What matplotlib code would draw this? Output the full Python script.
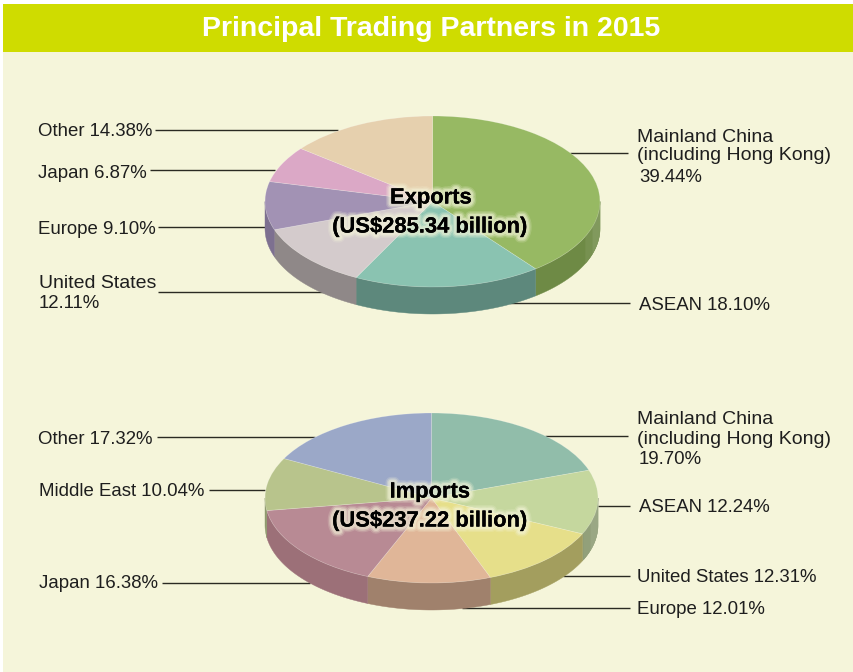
import numpy as np
import matplotlib
matplotlib.use("Agg")
import matplotlib.pyplot as plt
import matplotlib.colors as mc
import matplotlib.patheffects as pe

plt.rcParams['font.family'] = ['Liberation Sans', 'DejaVu Sans']

W, H = 854, 672
TITLE = "Principal Trading Partners in 2015"

export_names = ["Mainland China", "ASEAN", "United States", "Europe", "Japan", "Other"]
export_values = [39.44, 18.10, 12.11, 9.10, 6.87, 14.38]
import_names = ["Mainland China", "ASEAN", "United States", "Europe", "Japan", "Middle East", "Other"]
import_values = [19.70, 12.24, 12.31, 12.01, 16.38, 10.04, 17.32]

export_label_text = ["Other 14.38%", "Japan 6.87%", "Europe 9.10%", "United States", "12.11%",
                     "Mainland China", "(including Hong Kong)", "39.44%", "ASEAN 18.10%"]
import_label_text = ["Other 17.32%", "Middle East 10.04%", "Japan 16.38%",
                     "Mainland China", "(including Hong Kong)", "19.70%",
                     "ASEAN 12.24%", "United States 12.31%", "Europe 12.01%"]
centre_text = ["Exports", "(US$285.34 billion)", "Imports", "(US$237.22 billion)"]

# styling and layout, separate from the data above
export_colors = ["#97B963", "#8AC3B1", "#D4CBCC", "#A292B4", "#DBA8C6", "#E6D0AE"]
export_walls = ["#6E8A45", "#5D887C", "#8F8888", "#7D7090", "#A07F95", "#A8987E"]
import_colors = ["#91BDAA", "#C5D79E", "#E6DF8A", "#E0B698", "#B88A94", "#B8C48C", "#9BA8C8"]
import_walls = ["#6B8C7E", "#8B9A72", "#A39E5E", "#A0816C", "#9C7078", "#8F9A6E", "#727D96"]
export_label_xy = [(38, 132), (38, 173), (38, 230), (39, 283), (39, 303),
                   (637, 137), (637, 156), (639, 178), (639, 305)]
import_label_xy = [(38, 439), (39, 492), (39, 584),
                   (637, 419), (637, 439), (639, 460),
                   (639, 508), (637, 577), (637, 609)]
centre_xy = [(431, 198), (430, 227), (430, 492), (430, 521)]
leaders = [
    (155, 338, 130), (150, 275, 170), (158, 265, 227), (158, 325, 292), (570, 628, 153), (510, 630, 303),
    (157, 315, 437), (209, 265, 490), (162, 310, 583), (545, 628, 436), (598, 630, 506), (563, 630, 576),
    (462, 630, 608),
]

fig = plt.figure(figsize=(W / 100, H / 100), dpi=100, facecolor="white")


def px_axes(zorder):
    ax = fig.add_axes([0, 0, 1, 1], zorder=zorder)
    ax.set_xlim(0, W)
    ax.set_ylim(H, 0)
    ax.axis("off")
    ax.patch.set_alpha(0)
    return ax


base = px_axes(0)
base.fill_between([3, W], 52, H, color="#F5F5DA", lw=0)
base.fill_between([3, W], 4, 52, color="#CFDC00", lw=0)
base.text(431, 29, TITLE, color="white", fontsize=20.5, fontweight="bold",
          ha="center", va="center")
for x0, x1, y in leaders:
    base.plot([x0, x1], [y, y], color="#2A2A22", lw=1.0, solid_capstyle="butt")
for (x, y), s in zip(export_label_xy + import_label_xy, export_label_text + import_label_text):
    size = 14.0 if "%" not in s and s[0].isalpha() or s[0] == "(" else 13.4
    base.text(x, y, s, fontsize=size, color="#1E1E1E", ha="left", va="center")


def pie3d(values, colors, walls, cx, cy, rx, ry, depth):
    ax = fig.add_axes([(cx - rx) / W, 1 - (cy + ry) / H, 2 * rx / W, 2 * ry / H], zorder=1)
    ax.pie(values, colors=colors, startangle=90, counterclock=False, radius=1,
           wedgeprops=dict(edgecolor="#FFFFFF40", linewidth=0.5))
    ax.set_aspect("auto")
    ax.set_xlim(-1, 1)
    ax.set_ylim(-1, 1)
    d = depth / ry

    def wall(a0, a1, col):
        t = np.radians(np.linspace(a0, a1, 60))
        xs, ys = np.sin(t), np.cos(t)
        ax.fill(np.r_[xs, xs[::-1]], np.r_[ys, ys[::-1] - d], color=col,
                lw=0.3, clip_on=False, zorder=0.5)

    edges = np.cumsum([0] + list(values)) / sum(values) * 360
    for a0, a1, wc in zip(edges[:-1], edges[1:], walls):
        lo, hi = max(a0, 90), min(a1, 270)
        if hi <= lo:
            continue
        wall(lo, hi, wc)
        # the rim catches light in two narrow bands at the far right
        base_rgb = np.array(mc.to_rgb(wc))
        for b0, b1, k in ((107, 114, 0.06), (90, 107, 0.13)):
            s0, s1 = max(lo, b0), min(hi, b1)
            if s1 > s0:
                wall(s0, s1, base_rgb + (1 - base_rgb) * k)
    ax.patch.set_alpha(0)
    return ax


pie3d(export_values, export_colors, export_walls, 432.5, 201.5, 167.5, 85.5, 27)
pie3d(import_values, import_colors, import_walls, 431.5, 498, 166.5, 85, 27)

top = px_axes(2)
glow = [pe.withStroke(linewidth=w, foreground="#F5F5DA", alpha=a) for w, a in ((8, 0.18), (6, 0.3), (4, 0.45))]
for (x, y), s in zip(centre_xy, centre_text):
    t = top.text(x, y, s, fontsize=15.8, fontweight="bold", color="black", ha="center", va="center")
    t.set_path_effects(glow + [pe.Normal()])

fig.savefig("out.png", dpi=100)
